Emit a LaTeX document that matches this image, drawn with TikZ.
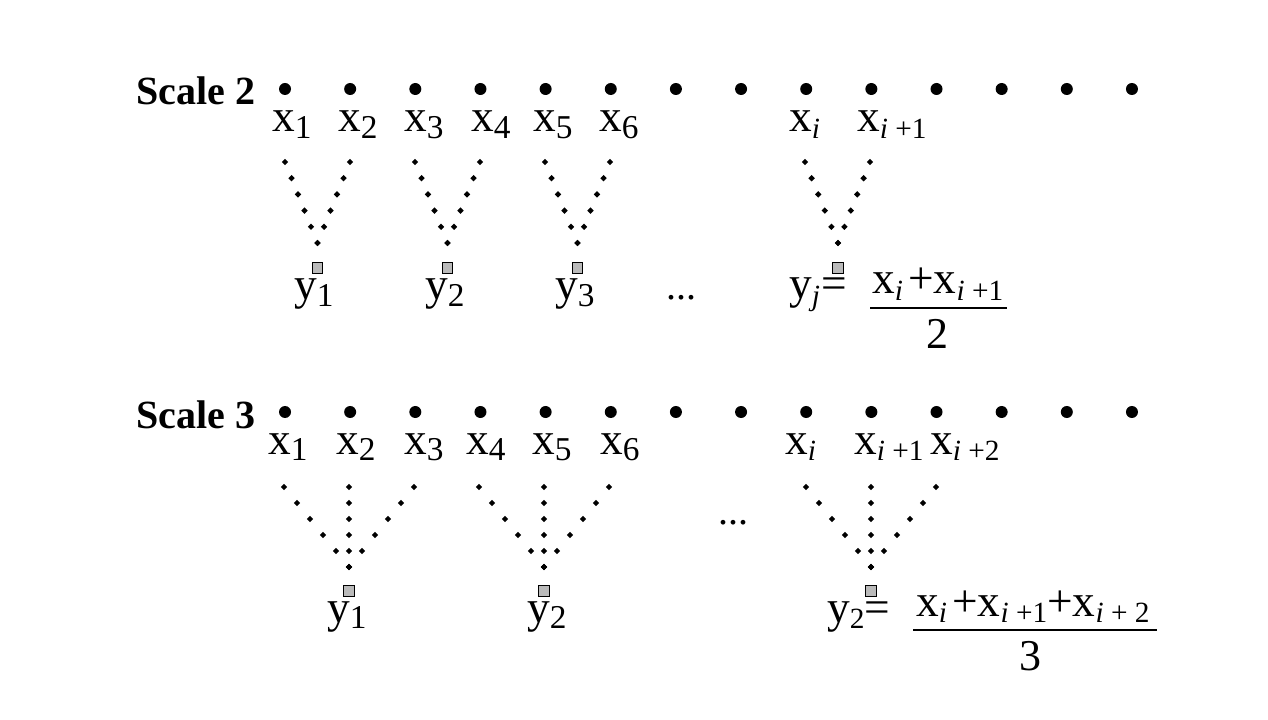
\documentclass[tikz,border=0pt]{standalone}
\usepackage{fontspec}
\setmainfont{Liberation Serif}
\usetikzlibrary{calc}
\newcommand\sbd[1]{\raisebox{-5pt}{\fontsize{25}{27}\selectfont #1}}
\newcommand\sbx[1]{\raisebox{-5pt}{\fontsize{22}{24}\selectfont #1}}
\newcommand\ii{\textit{i}}
\newcommand\dotarm[2]{\foreach \k in {0,...,5}{\fill[sdiam] ($(#1)!\k/5!(#2)$) +(0,3.2) -- +(3.2,0) -- +(0,-3.2) -- +(-3.2,0) -- cycle;}}
\begin{document}
\begin{tikzpicture}[x=0.75pt,y=-0.75pt]
\tikzset{
  bigdot/.style={circle,fill=black,inner sep=0pt,minimum size=9pt},
  sdiam/.style={fill=black},
  ysq/.style={rectangle,draw=black,fill=black!27,line width=0.7pt,inner sep=0pt,minimum size=7.6pt},
  lbl/.style={font=\fontsize{34}{36}\selectfont,inner sep=0pt,anchor=base west},
  den/.style={font=\fontsize{33}{35}\selectfont,inner sep=0pt,anchor=base},
  ell/.style={font=\fontsize{30}{32}\selectfont,inner sep=0pt,anchor=base},
  title/.style={font=\bfseries\fontsize{30}{32}\selectfont,inner sep=0pt,anchor=base west},
  bar/.style={line width=1.1pt}
}
\useasboundingbox (0,0) rectangle (1268,720);

% ---------------- Scale 2 ----------------
\node[title] (t2) at (136,105) {Scale 2};
\foreach \k in {1,...,14}{\node[bigdot] (a\k) at ({285+65.15*(\k-1)},89) {};}
\node[lbl] (la1) at (272,132) {x\sbd{1}};
\node[lbl] (la2) at (338,132) {x\sbd{2}};
\node[lbl] (la3) at (404,132) {x\sbd{3}};
\node[lbl] (la4) at (471,132) {x\sbd{4}};
\node[lbl] (la5) at (533,132) {x\sbd{5}};
\node[lbl] (la6) at (599,132) {x\sbd{6}};
\node[lbl] (lai) at (789,132) {x\sbx{\ii}};
\node[lbl] (laj) at (857,132) {x\sbx{\ii\ +1}};

\foreach \c/\l/\r/\n in {317.5/285/350/1, 447.5/415/480/2, 577.5/545/610/3, 838/805/870/j}{
  \coordinate (pl\n) at (\l,162);
  \coordinate (pr\n) at (\r,162);
  \coordinate (ap\n) at (\c,243);
  \node[ysq] (sq\n) at (\c,268) {};
  \dotarm{pl\n}{ap\n}
  \dotarm{pr\n}{ap\n}
}
\node[lbl] (ya1) at (294,300) {y\sbd{1}};
\node[lbl] (ya2) at (425,300) {y\sbd{2}};
\node[lbl] (ya3) at (555,300) {y\sbd{3}};
\node[ell] (el2) at (681,300) {...};
\node[lbl] (yaj) at (789,299) {y\sbx{\textit{j}}\hspace{1pt}=};
\node[lbl] (num2) at (872,294) {x\sbx{\ii}\hspace{4pt}+x\sbx{\ii\ +1}};
\coordinate (b2l) at (870,308);
\coordinate (b2r) at (1007,308);
\draw[bar] (b2l) -- (b2r);
\node[den] (den2) at (937,349) {2};

% ---------------- Scale 3 ----------------
\node[title] (t3) at (136,428) {Scale 3};
\foreach \k in {1,...,14}{\node[bigdot] (b\k) at ({285+65.15*(\k-1)},412) {};}
\node[lbl] (lb1) at (268,454) {x\sbd{1}};
\node[lbl] (lb2) at (336,454) {x\sbd{2}};
\node[lbl] (lb3) at (404,454) {x\sbd{3}};
\node[lbl] (lb4) at (466,454) {x\sbd{4}};
\node[lbl] (lb5) at (532,454) {x\sbd{5}};
\node[lbl] (lb6) at (600,454) {x\sbd{6}};
\node[lbl] (lbi) at (785,454) {x\sbx{\ii}};
\node[lbl] (lbj) at (854,454) {x\sbx{\ii\ +1}};
\node[lbl] (lbk) at (930,454) {x\sbx{\ii\ +2}};

\foreach \c/\l/\r/\n in {349/284/414/1, 544/479/609/2, 871/806/936/k}{
  \coordinate (ql\n) at (\l,487);
  \coordinate (qc\n) at (\c,487);
  \coordinate (qr\n) at (\r,487);
  \coordinate (aq\n) at (\c,567);
  \node[ysq] (tq\n) at (\c,591) {};
  \dotarm{ql\n}{aq\n}
  \dotarm{qc\n}{aq\n}
  \dotarm{qr\n}{aq\n}
}
\node[lbl] (yb1) at (327,622) {y\sbd{1}};
\node[lbl] (yb2) at (527,622) {y\sbd{2}};
\node[ell] (el3) at (733,524) {...};
\node[lbl] (ybk) at (827,622) {y\sbx{2}=};
\node[lbl] (num3) at (916,616) {x\sbx{\ii}\hspace{4pt}+x\sbx{\ii\ +1}+x\sbx{\ii\ + 2}};
\coordinate (b3l) at (913,630);
\coordinate (b3r) at (1157,630);
\draw[bar] (b3l) -- (b3r);
\node[den] (den3) at (1030,670) {3};
\end{tikzpicture}
\end{document}
